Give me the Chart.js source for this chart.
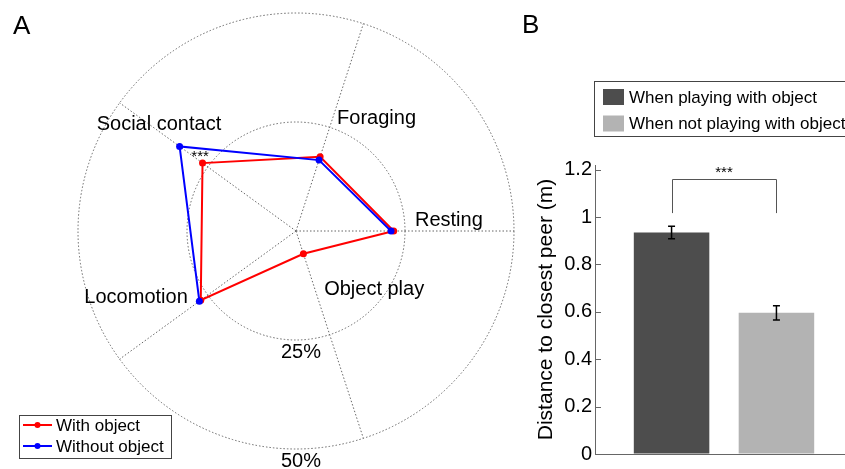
<!DOCTYPE html>
<html>
<head>
<meta charset="utf-8">
<script src="https://cdn.jsdelivr.net/npm/chart.js@4.4.0/dist/chart.umd.min.js"></script>
<style>
  html, body { margin: 0; padding: 0; background: #fff; overflow: hidden; }
  #wrap { position: relative; width: 845px; height: 469px; overflow: hidden; font-family: "Liberation Sans", Arial, sans-serif; }
  #radarChart { position: absolute; left: 0; top: 0; }
  #barChart { position: absolute; left: 520px; top: 0; }
  .panel { position: absolute; font-size: 26px; line-height: normal; color: #000; }
</style>
</head>
<body>
<div id="wrap">
  <canvas id="radarChart" width="520" height="469"></canvas>
  <canvas id="barChart" width="340" height="469"></canvas>
  <div class="panel" style="left:13px; top:10px;">A</div>
  <div class="panel" style="left:522px; top:9px;">B</div>
</div>
<script>
// Panel A: time budget (%), axes go clockwise starting from the right
const radarLabels = ['Resting', 'Object play', 'Locomotion', 'Social contact', 'Foraging'];
const withObject = [22.4, 5.5, 27.0, 26.5, 17.9];
const withoutObject = [21.8, null, 27.4, 33.0, 17.1];
const radarTicks = [0, 25, 50];
const radarTickLabels = ['25%', '50%'];
const radarSeries = ['With object', 'Without object'];

// Panel B: distance to closest peer
const barLabels = ['When playing with object', 'When not playing with object'];
const barPositions = [1, 2];
const barValues = [0.935, 0.596];
const barErrors = [0.026, 0.030];
const barTicks = [0, 0.2, 0.4, 0.6, 0.8, 1, 1.2];
const barTickLabels = ['0', '0.2', '0.4', '0.6', '0.8', '1', '1.2'];
const sigBracket = [1.017, 1.163];

const FONT = '"Liberation Sans", Arial, sans-serif';
const barColors = ['#4d4d4d', '#b3b3b3'];

// where each category name sits along its spoke
const labelSpots = [
  { v: 26.6, dx: 3, dy: -11, align: 'left' },
  { v: 14.2, dx: 9, dy: 0, align: 'left' },
  { v: 27.0, dx: -13, dy: -3, align: 'right' },
  { v: 39.7, dx: 3, dy: -5, align: 'center' },
  { v: 26.8, dx: 5, dy: -1, align: 'left' }
];

const radarText = {
  id: 'radarText',
  afterDraw(chart) {
    const r = chart.scales.r;
    const ctx = chart.ctx;
    ctx.save();
    ctx.fillStyle = '#000';
    ctx.font = '20px ' + FONT;
    ctx.textBaseline = 'middle';
    radarLabels.forEach((lab, i) => {
      const s = labelSpots[i];
      const p = r.getPointPositionForValue(i, s.v);
      ctx.textAlign = s.align;
      ctx.fillText(lab, p.x + s.dx, p.y + s.dy);
    });

    ctx.textAlign = 'center';
    radarTicks.slice(1).forEach((v, k) => {
      const d = r.getDistanceFromCenterForValue(v);
      ctx.fillText(radarTickLabels[k], r.xCenter + 5, r.yCenter + d + 12);
    });

    // *** next to social contact
    const sc = radarLabels.indexOf('Social contact');
    const mid = (withObject[sc] + withoutObject[sc]) / 2;
    const ps = r.getPointPositionForValue(sc, mid);
    ctx.font = '15px ' + FONT;
    ctx.fillText('***', ps.x + 9, ps.y + 2);

    // legend box
    ctx.strokeStyle = '#444';
    ctx.lineWidth = 1;
    ctx.strokeRect(19.5, 415.5, 152, 43);
    ctx.font = '17px ' + FONT;
    ctx.textAlign = 'left';
    chart.data.datasets.forEach((ds, k) => {
      const y = 425 + k * 21;
      ctx.strokeStyle = ds.borderColor;
      ctx.lineWidth = 2;
      ctx.beginPath();
      ctx.moveTo(23, y);
      ctx.lineTo(52, y);
      ctx.stroke();
      ctx.fillStyle = ds.borderColor;
      ctx.beginPath();
      ctx.arc(37.5, y, 3, 0, Math.PI * 2);
      ctx.fill();
      ctx.fillStyle = '#000';
      ctx.fillText(ds.label, 56, y + 1);
    });
    ctx.restore();
  }
};

new Chart(document.getElementById('radarChart'), {
  type: 'radar',
  data: {
    labels: radarLabels,
    datasets: [
      {
        label: radarSeries[0],
        data: withObject,
        borderColor: '#ff0000',
        backgroundColor: '#ff0000',
        pointBackgroundColor: '#ff0000',
        borderWidth: 2,
        pointRadius: 3.5,
        pointBorderWidth: 0,
        fill: false,
        order: 2
      },
      {
        label: radarSeries[1],
        data: withoutObject,
        borderColor: '#0000ff',
        backgroundColor: '#0000ff',
        pointBackgroundColor: '#0000ff',
        borderWidth: 2,
        pointRadius: 3.5,
        pointBorderWidth: 0,
        fill: false,
        spanGaps: false,
        order: 1
      }
    ]
  },
  options: {
    responsive: false,
    animation: false,
    layout: { padding: { left: 78, right: 6, top: 13, bottom: 20 } },
    plugins: { legend: { display: false }, tooltip: { enabled: false } },
    scales: {
      r: {
        min: 0,
        max: 50,
        startAngle: 90,
        afterBuildTicks: s => { s.ticks = radarTicks.map(v => ({ value: v })); },
        ticks: { display: false },
        pointLabels: { display: false },
        grid: { circular: true, color: '#666', lineWidth: 1 },
        border: { dash: [1.5, 2] },
        angleLines: { color: '#666', lineWidth: 1, borderDash: [1.5, 2] }
      }
    }
  },
  plugins: [radarText]
});

const barExtras = {
  id: 'barExtras',
  afterDraw(chart) {
    const ctx = chart.ctx;
    const x = chart.scales.x;
    const y = chart.scales.y;
    ctx.save();

    // inward tick marks
    ctx.strokeStyle = '#666';
    ctx.lineWidth = 1;
    barTicks.forEach(v => {
      const py = Math.round(y.getPixelForValue(v)) + 0.5;
      ctx.beginPath();
      ctx.moveTo(x.left, py);
      ctx.lineTo(x.left + 6, py);
      ctx.stroke();
    });

    // error bars
    ctx.strokeStyle = '#000';
    ctx.lineWidth = 1.5;
    barValues.forEach((v, i) => {
      const px = x.getPixelForValue(barPositions[i]);
      const hi = y.getPixelForValue(v + barErrors[i]);
      const lo = y.getPixelForValue(v - barErrors[i]);
      ctx.beginPath();
      ctx.moveTo(px, hi); ctx.lineTo(px, lo);
      ctx.moveTo(px - 3.5, hi); ctx.lineTo(px + 3.5, hi);
      ctx.moveTo(px - 3.5, lo); ctx.lineTo(px + 3.5, lo);
      ctx.stroke();
    });

    // significance bracket
    const x1 = x.getPixelForValue(barPositions[0]);
    const x2 = x.getPixelForValue(barPositions[1]);
    const yLo = y.getPixelForValue(sigBracket[0]);
    const yHi = Math.round(y.getPixelForValue(sigBracket[1])) + 0.5;
    ctx.strokeStyle = '#555';
    ctx.lineWidth = 1;
    ctx.beginPath();
    ctx.moveTo(Math.round(x1) + 0.5, yLo);
    ctx.lineTo(Math.round(x1) + 0.5, yHi);
    ctx.lineTo(Math.round(x2) + 0.5, yHi);
    ctx.lineTo(Math.round(x2) + 0.5, yLo);
    ctx.stroke();
    ctx.fillStyle = '#000';
    ctx.font = '15px ' + FONT;
    ctx.textAlign = 'center';
    ctx.textBaseline = 'middle';
    ctx.fillText('***', (x1 + x2) / 2, yHi - 7);

    // legend box
    ctx.strokeStyle = '#444';
    ctx.strokeRect(74.5, 81.5, 280, 55);
    ctx.font = '17px ' + FONT;
    ctx.textAlign = 'left';
    barLabels.forEach((lab, k) => {
      const cy = 97 + k * 26.5;
      ctx.fillStyle = barColors[k];
      ctx.fillRect(83, cy - 8, 21, 16);
      ctx.fillStyle = '#000';
      ctx.fillText(lab, 109, cy + 1);
    });
    ctx.restore();
  }
};

new Chart(document.getElementById('barChart'), {
  type: 'bar',
  data: {
    datasets: [
      {
        label: 'Distance to closest peer (m)',
        data: barPositions.map((p, i) => ({ x: p, y: barValues[i] })),
        backgroundColor: barColors
      }
    ]
  },
  options: {
    responsive: false,
    animation: false,
    layout: { padding: { left: 0, right: 7, top: 165, bottom: 0 } },
    plugins: { legend: { display: false }, tooltip: { enabled: false } },
    scales: {
      x: {
        type: 'linear',
        offset: false,
        min: 0.27,
        max: 2.73,
        afterBuildTicks: s => { s.ticks = barPositions.map(v => ({ value: v })); },
        ticks: { display: false },
        grid: { display: false, drawTicks: false },
        border: { color: '#666', width: 1 },
        afterFit: s => { s.height = 7; }
      },
      y: {
        min: 0,
        max: 1.22,
        afterBuildTicks: s => { s.ticks = barTicks.map(v => ({ value: v })); },
        ticks: {
          color: '#000',
          font: { size: 20, family: FONT },
          padding: 3,
          callback: (v, i) => barTickLabels[i]
        },
        grid: { drawOnChartArea: false, drawTicks: false },
        border: { color: '#666', width: 1 },
        title: {
          display: true,
          text: 'Distance to closest peer (m)',
          color: '#000',
          font: { size: 21, family: FONT },
          padding: { top: 14, bottom: 0 }
        },
        afterFit: s => { s.width = 75; }
      }
    }
  },
  plugins: [barExtras]
});
</script>
</body>
</html>
